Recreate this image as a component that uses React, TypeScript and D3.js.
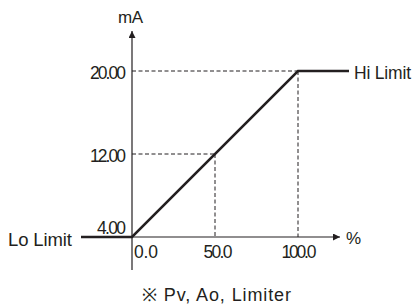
import { useEffect, useRef } from "react";
import * as d3 from "d3";

const xTicks = [0, 50, 100];
const xTickLabels = ["0.0", "50.0", "100.0"];
const yTicks = [4, 12, 20];
const yTickLabels = ["4.00", "12.00", "20.00"];
// output curve: % in -> mA out
const curvePct = [0, 100];
const curveMa = [4, 20];
const guidePct = [50, 100];
const guideMa = [12, 20];
const loLimitLabel = "Lo Limit";
const hiLimitLabel = "Hi Limit";
const yUnit = "mA";
const xUnit = "%";
const note = "※ Pv, Ao, Limiter";

const W = 414;
const H = 307;
const FONT = "'Liberation Sans', Arial, sans-serif";
const INK = "#231f20";

const App = () => {
  const svgRef = useRef<SVGSVGElement | null>(null);

  useEffect(() => {
    const svgEl = svgRef.current;
    if (!svgEl) return;
    const svg = d3.select(svgEl);
    svg.selectAll("*").remove();

    const x = d3.scaleLinear().domain([0, 100]).range([132, 298]);
    const y = d3.scaleLinear().domain([4, 20]).range([237, 71]);

    svg
      .append("defs")
      .append("marker")
      .attr("id", "arrow")
      .attr("viewBox", "0 0 10 10")
      .attr("refX", 10)
      .attr("refY", 5)
      .attr("markerWidth", 7)
      .attr("markerHeight", 7)
      .attr("markerUnits", "userSpaceOnUse")
      .attr("orient", "auto")
      .append("path")
      .attr("d", "M0,0L10,5L0,10Z")
      .attr("fill", INK);

    // dashed guides
    const g = svg.append("g").attr("stroke", INK).attr("stroke-width", 1).attr("stroke-dasharray", "4,2.5");
    guidePct.forEach((p, i) => {
      g.append("line").attr("x1", x(0)).attr("x2", x(p)).attr("y1", y(guideMa[i])).attr("y2", y(guideMa[i]));
      g.append("line").attr("x1", x(p)).attr("x2", x(p)).attr("y1", y(guideMa[i])).attr("y2", y(4));
    });

    // axes
    svg
      .append("line")
      .attr("x1", x(0))
      .attr("x2", x(0))
      .attr("y1", 270)
      .attr("y2", 31)
      .attr("stroke", INK)
      .attr("stroke-width", 1.2)
      .attr("marker-end", "url(#arrow)");
    svg
      .append("line")
      .attr("x1", x(0))
      .attr("x2", 340)
      .attr("y1", y(4))
      .attr("y2", y(4))
      .attr("stroke", INK)
      .attr("stroke-width", 1.2)
      .attr("marker-end", "url(#arrow)");

    // limiter curve
    const line = d3
      .line<[number, number]>()
      .x((d) => d[0])
      .y((d) => d[1]);
    const pts: [number, number][] = [
      [81, y(curveMa[0])],
      ...curvePct.map((p, i) => [x(p), y(curveMa[i])] as [number, number]),
      [349, y(curveMa[1])],
    ];
    svg
      .append("path")
      .attr("d", line(pts))
      .attr("fill", "none")
      .attr("stroke", INK)
      .attr("stroke-width", 2.5)
      .attr("stroke-linejoin", "miter");

    // width-fitted text, to match the condensed lettering of the original
    const text = (tx: number, ty: number, s: string, size: number, len: number, anchor = "start") =>
      svg
        .append("text")
        .attr("x", tx)
        .attr("y", ty)
        .attr("text-anchor", anchor)
        .attr("font-family", FONT)
        .attr("font-size", size)
        .attr("textLength", len)
        .attr("lengthAdjust", "spacing")
        .attr("fill", INK)
        .text(s);

    const yLabelLen = [29, 36, 36];
    yTicks.forEach((v, i) => {
      const ty = v === 4 ? y(v) - 3.5 : y(v) + 8;
      text(x(0) - 6, ty, yTickLabels[i], 17.5, yLabelLen[i], "end");
    });
    const xLabelLen = [24, 29, 35];
    const xLabelShift = [2, 3, 1];
    xTicks.forEach((v, i) => {
      text(x(v) + xLabelShift[i], 258, xTickLabels[i], 17.5, xLabelLen[i], v === 0 ? "start" : "middle");
    });

    text(118, 23, yUnit, 17, 25);
    text(346, 244, xUnit, 17, 15);
    text(8, 245.5, loLimitLabel, 18.5, 64);
    text(354, 79, hiLimitLabel, 17.5, 57);
    text(142, 300.5, note, 18, 149);
  }, []);

  return (
    <svg
      ref={svgRef}
      width={W}
      height={H}
      style={{ position: "fixed", left: 0, top: 0, display: "block", background: "#fff" }}
    />
  );
};

export default App;
